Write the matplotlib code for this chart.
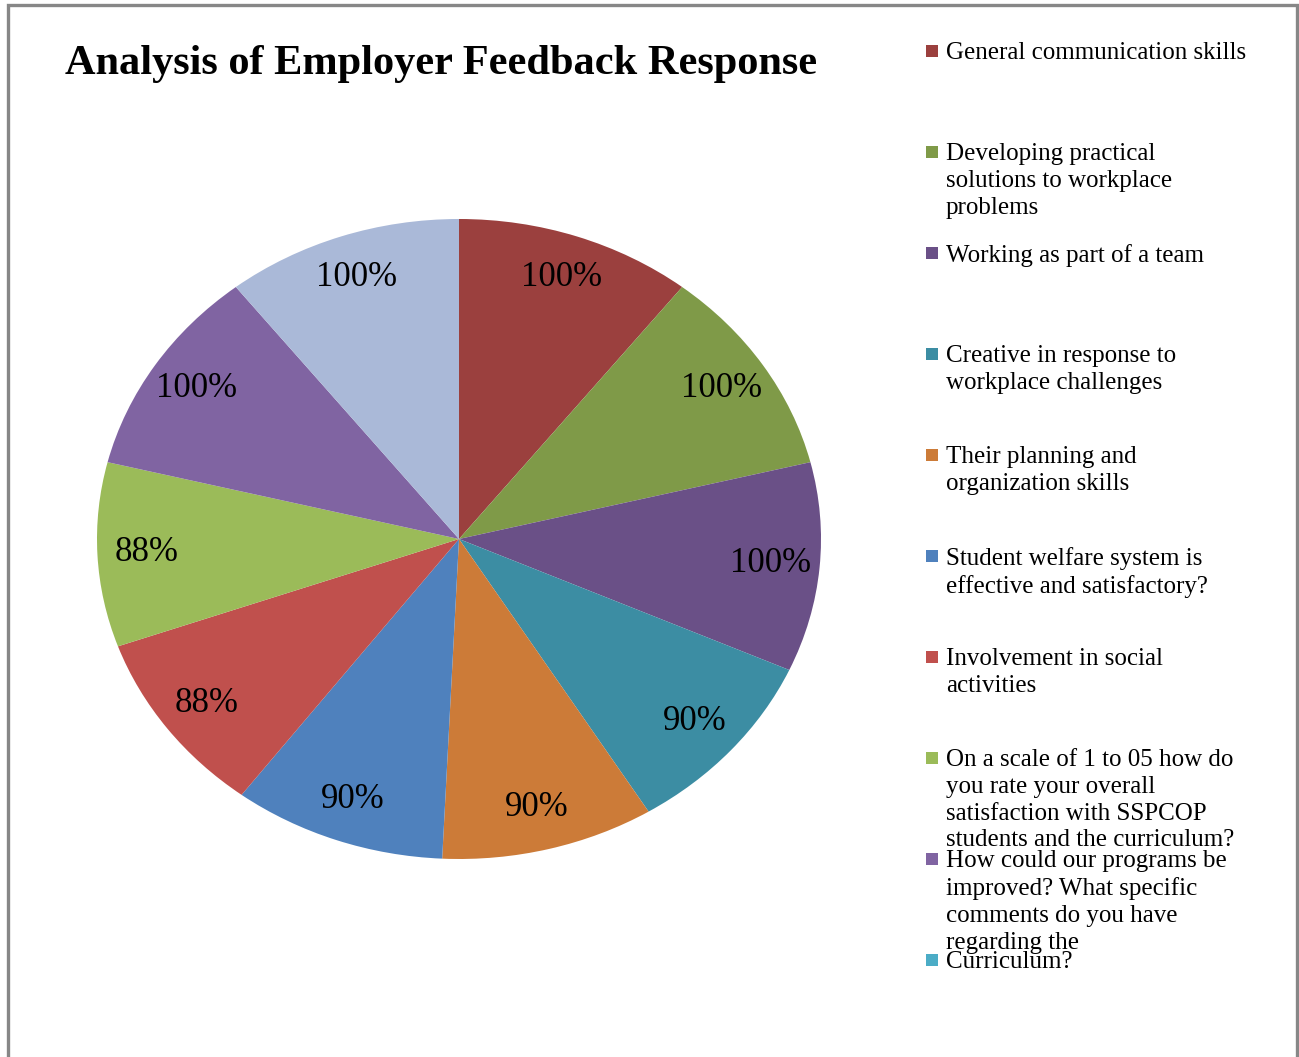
import numpy as np
import matplotlib
matplotlib.use("Agg")
import matplotlib.pyplot as plt
from matplotlib.patches import Rectangle

##WWww=--  data: --=wwWW##
categories = [
    "General communication skills",
    "Developing practical\nsolutions to workplace\nproblems",
    "Working as part of a team",
    "Creative in response to\nworkplace challenges",
    "Their planning and\norganization skills",
    "Student welfare system is\neffective and satisfactory?",
    "Involvement in social\nactivities",
    "On a scale of 1 to 05 how do\nyou rate your overall\nsatisfaction with SSPCOP\nstudents and the curriculum?",
    "How could our programs be\nimproved? What specific\ncomments do you have\nregarding the",
    "Curriculum?",
]
values = [100, 100, 100, 90, 90, 90, 88, 88, 100, 100]

colors = ["#9B403E", "#7F9A48", "#6A5087", "#3C8DA3", "#CC7B38",
          "#4F81BD", "#C0504D", "#9BBB59", "#8064A2", "#AAB9D8"]
legend_colors = colors[:9] + ["#4BACC6"]

W, H = 1299, 1057
serif = ["Liberation Serif", "DejaVu Serif"]

##WWww=--  figure: --=wwWW##
fig = plt.figure(figsize=(W/100, H/100), dpi=100)
fig.patch.set_facecolor("white")

# outer frame (bottom edge runs off the picture)
fig.patches.append(Rectangle((8/W, -0.02), (1297-8)/W, 1.02 - 5/H,
                             transform=fig.transFigure, fill=False,
                             edgecolor="#878787", linewidth=2.4))

fig.text(65/W, 1 - 64/H, "Analysis of Employer Feedback Response",
         family=serif, fontweight="bold", fontsize=30.5, va="center", ha="left")

# pie: axes box = ellipse bbox, so wedges stretch like the original
cx, cy, rx, ry = 459, 539, 362, 320
ax = fig.add_axes([(cx-rx)/W, 1-(cy+ry)/H, 2*rx/W, 2*ry/H])
total = float(np.sum(values))
wedges, texts, autotexts = ax.pie(
    values, colors=colors, startangle=90, counterclock=False,
    autopct=lambda p: "%.0f%%" % (p*total/100.), pctdistance=0.865,
    wedgeprops=dict(linewidth=0),
    textprops=dict(family=serif, fontsize=25, color="black"))
ax.set_aspect("auto")
ax.set_xlim(-1, 1)
ax.set_ylim(-1, 1)
ax.axis("off")

# legend, drawn by hand to keep the fixed slot pitch of the original
# (the last two slots touch in the original too)
y0, pitch = 51, 101
for i, (lab, c) in enumerate(zip(categories, legend_colors)):
    yc = y0 + i*pitch
    fig.patches.append(Rectangle((926/W, 1-(yc+6)/H), 12/W, 12/H,
                                 transform=fig.transFigure,
                                 facecolor=c, edgecolor="none"))
    fig.text(946/W, 1-(yc-9)/H, lab, family=serif, fontsize=18,
             va="top", ha="left", linespacing=1.28)

fig.savefig("out.png", dpi=100)
